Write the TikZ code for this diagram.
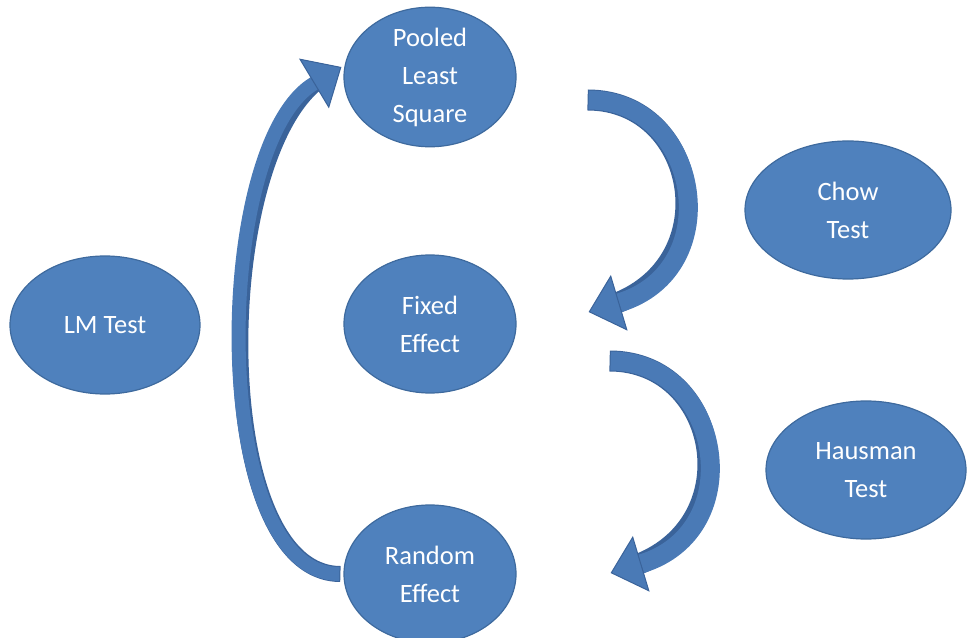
\documentclass[tikz,border=0pt]{standalone}
\usepackage{fontspec}
\setmainfont{Carlito}
\usetikzlibrary{arrows.meta,shapes.geometric,calc}
\definecolor{office}{HTML}{4F81BD}
\definecolor{officeline}{HTML}{3E6A9E}
\definecolor{flowfill}{HTML}{4A7AB6}
\definecolor{flowline}{HTML}{3A639A}

\begin{document}
\begin{tikzpicture}[x=1pt,y=1pt,
  bubble/.style={ellipse,draw=officeline,line width=1.2pt,fill=office,text=white,inner sep=0pt,align=center,minimum width=172pt,minimum height=138pt,font=\fontsize{26.5}{38}\selectfont},
  flow/.style={draw=flowfill,line width=#1,-{Triangle[width=58pt,length=32pt,fill=flowfill,color=flowline,line width=1pt]},preaction={draw=flowline,line width=#1+2pt,-,shorten >=18pt,shorten <=-1pt}}]
\useasboundingbox (0,0) rectangle (968,637);
\node[bubble] (pooled) at (430,560) {Pooled\\Least\\Square};
\node[bubble] (fixed) at (430,313) {Fixed\\Effect};
\node[bubble] (random) at (430,63) {Random\\Effect};
\node[bubble,minimum width=190pt] (lm) at (105,312) {LM Test};
\node[bubble,minimum width=206pt] (chow) at (848,427) {Chow\\Test};
\node[bubble,minimum width=200pt] (hausman) at (866,167) {Hausman\\Test};
% loose ends of the curved arrows
\coordinate (lmTail) at ($(random.west)+(-4,0)$);
\coordinate (lmTip) at ($(pooled.west)+(-2,10)$);
\coordinate (chowTail) at ($(pooled.east)+(72,-23)$);
\coordinate (chowTip) at ($(fixed.east)+(72,12)$);
\coordinate (hausTail) at ($(fixed.east)+(94,-37)$);
\coordinate (hausTip) at ($(random.east)+(94,1)$);
\draw[flow=14pt] (lmTail) .. controls +(-132,0) and +(-130,-78) .. (lmTip);
\draw[flow=19pt] (chowTail) .. controls +(112,0) and +(140,42) .. (chowTip);
\draw[flow=19pt] (hausTail) .. controls +(112,0) and +(140,42) .. (hausTip);
\end{tikzpicture}
\end{document}
